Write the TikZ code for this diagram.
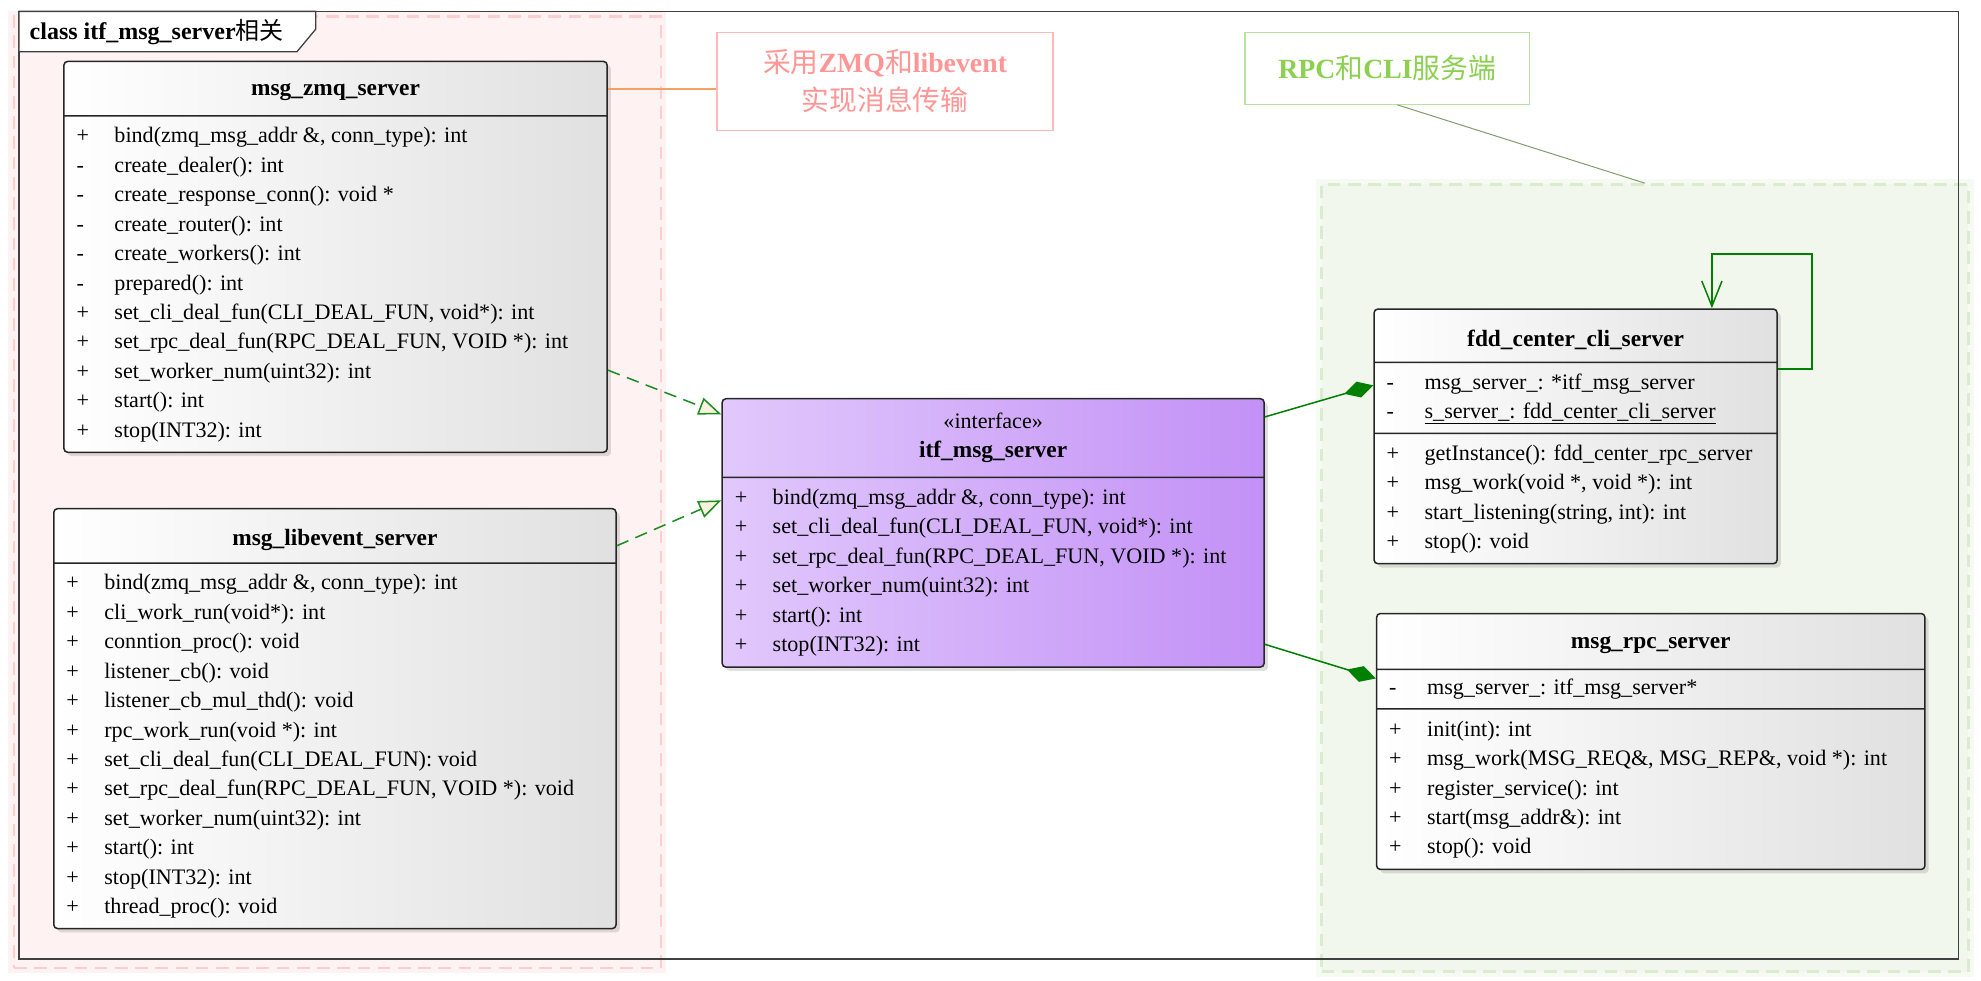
\documentclass[tikz,border=0pt]{standalone}
\usepackage{fontspec}
\setmainfont{Liberation Serif}
\newfontfamily\cjk{Noto Sans CJK SC}
\usepackage{xcolor}
\usepackage{tikz}
\usetikzlibrary{arrows.meta, positioning, calc, shapes.multipart, shadows}
\definecolor{zonepink}{RGB}{255,242,242}
\definecolor{zonepinkline}{RGB}{255,205,205}
\definecolor{zonegreen}{RGB}{242,247,238}
\definecolor{zonegreenline}{RGB}{218,236,208}
\definecolor{notepinktext}{RGB}{255,150,150}
\definecolor{notepinkline}{RGB}{255,185,185}
\definecolor{notegreentext}{RGB}{140,208,80}
\definecolor{notegreenline}{RGB}{185,225,160}
\definecolor{linkorange}{RGB}{245,160,100}
\definecolor{linkgreen}{RGB}{0,128,0}
\definecolor{realgreen}{RGB}{30,140,30}
\definecolor{tipcream}{RGB}{250,242,225}
\definecolor{ifleft}{RGB}{225,200,252}
\definecolor{ifright}{RGB}{195,145,246}

\newcommand{\ctitle}[3]{\parbox[c][#2][c]{#1}{\centering\fontsize{18.5}{23.3}\selectfont\bfseries\raisebox{-3pt}[\height][\depth]{#3}}}
\newcommand{\crows}[3]{\parbox[c][#2][c]{#1}{\raggedright\leftskip=10pt #3}}
\newcommand{\vis}[2]{\strut\makebox[30pt][l]{#1}\mbox{#2}}

\begin{document}
\begin{tikzpicture}[
    x=1pt, y=-1pt,
    font=\fontsize{17.5}{23.3}\selectfont,
    classbox/.style={rectangle split, rectangle split parts=#1, draw=black!85, line width=1.2pt, rounded corners=3pt, inner sep=0pt, left color=white, right color=black!12, drop shadow={shadow xshift=3pt, shadow yshift=-3pt, opacity=0.25}, anchor=north west},
    pinkzone/.style={draw=zonepinkline, fill=zonepink, line width=2pt, dash pattern=on 10pt off 6pt, inner sep=0pt, anchor=north west, preaction={draw=zonepinkline, line width=9pt, opacity=0.25, solid}},
    greenzone/.style={draw=zonegreenline, fill=zonegreen, line width=2pt, dash pattern=on 10pt off 6pt, inner sep=0pt, anchor=north west, preaction={draw=zonegreenline, line width=9pt, opacity=0.25, solid}},
    frameline/.style={draw=black!75, line width=1pt},
    notebox/.style={draw, fill=white, line width=1pt, align=center, inner sep=0pt, anchor=north west, font=\fontsize{22}{30}\selectfont},
    realize/.style={draw=realgreen, line width=1.2pt, dash pattern=on 10pt off 6pt, -{Triangle[length=18pt, width=14pt, fill=tipcream]}},
    compose/.style={draw=linkgreen, line width=1.2pt, -{Diamond[length=24pt, width=13pt, fill=linkgreen]}},
    selfref/.style={draw=linkgreen, line width=1.2pt, -{Straight Barb[length=20pt, width=16pt]}}
]
\useasboundingbox (0,0) rectangle (1568,776);

% zones
\node[pinkzone, minimum width=512pt, minimum height=753pt] (zonea) at (10,12) {};
\node[greenzone, minimum width=512pt, minimum height=623pt] (zoneb) at (1045,145) {};

% frame and its tab
\draw[frameline] (15,9) rectangle (1550,759);
\draw[frameline, fill=white] (15,9) -- (250,9) -- (250,23) -- (235,41) -- (15,41) -- cycle;
\node[anchor=west, font=\fontsize{19}{23}\selectfont] (framename) at (20,25) {\textbf{class itf\_msg\_server}{\cjk 相关}};

% notes
\node[notebox, draw=notepinkline, text=notepinktext, minimum width=266pt, minimum height=78pt] (notea) at (567,25) {{\cjk 采用}\textbf{ZMQ}{\cjk 和}\textbf{libevent}\\{\cjk 实现消息传输}};
\node[notebox, draw=notegreenline, text=notegreentext, minimum width=225pt, minimum height=57pt] (noteb) at (985,25) {\textbf{RPC}{\cjk 和}\textbf{CLI}{\cjk 服务端}};

% transport classes
\node[classbox=2] (zmq) at (50,48) {\ctitle{430pt}{42pt}{msg\_zmq\_server}
  \nodepart{two}\crows{430pt}{265pt}{%
    \vis{+}{bind(zmq\_msg\_addr \&, conn\_type): int}\\
    \vis{-}{create\_dealer(): int}\\
    \vis{-}{create\_response\_conn(): void *}\\
    \vis{-}{create\_router(): int}\\
    \vis{-}{create\_workers(): int}\\
    \vis{-}{prepared(): int}\\
    \vis{+}{set\_cli\_deal\_fun(CLI\_DEAL\_FUN, void*): int}\\
    \vis{+}{set\_rpc\_deal\_fun(RPC\_DEAL\_FUN, VOID *): int}\\
    \vis{+}{set\_worker\_num(uint32): int}\\
    \vis{+}{start(): int}\\
    \vis{+}{stop(INT32): int}}};

\node[classbox=2] (libev) at (42,402) {\ctitle{445pt}{42pt}{msg\_libevent\_server}
  \nodepart{two}\crows{445pt}{288pt}{%
    \vis{+}{bind(zmq\_msg\_addr \&, conn\_type): int}\\
    \vis{+}{cli\_work\_run(void*): int}\\
    \vis{+}{conntion\_proc(): void}\\
    \vis{+}{listener\_cb(): void}\\
    \vis{+}{listener\_cb\_mul\_thd(): void}\\
    \vis{+}{rpc\_work\_run(void *): int}\\
    \vis{+}{set\_cli\_deal\_fun(CLI\_DEAL\_FUN): void}\\
    \vis{+}{set\_rpc\_deal\_fun(RPC\_DEAL\_FUN, VOID *): void}\\
    \vis{+}{set\_worker\_num(uint32): int}\\
    \vis{+}{start(): int}\\
    \vis{+}{stop(INT32): int}\\
    \vis{+}{thread\_proc(): void}}};

% interface
\node[classbox=2, left color=ifleft, right color=ifright] (itf) at (571,315) {\parbox[c][61pt][c]{429pt}{\centering «interface»\\ \fontsize{18.5}{23.3}\selectfont\bfseries itf\_msg\_server}
  \nodepart{two}\crows{429pt}{149pt}{%
    \vis{+}{bind(zmq\_msg\_addr \&, conn\_type): int}\\
    \vis{+}{set\_cli\_deal\_fun(CLI\_DEAL\_FUN, void*): int}\\
    \vis{+}{set\_rpc\_deal\_fun(RPC\_DEAL\_FUN, VOID *): int}\\
    \vis{+}{set\_worker\_num(uint32): int}\\
    \vis{+}{start(): int}\\
    \vis{+}{stop(INT32): int}}};

% servers
\node[classbox=3] (cli) at (1087,244) {\ctitle{319pt}{41pt}{fdd\_center\_cli\_server}
  \nodepart{two}\crows{319pt}{55pt}{%
    \vis{-}{msg\_server\_: *itf\_msg\_server}\\
    \vis{-}{\underline{s\_server\_: fdd\_center\_cli\_server}}}
  \nodepart{three}\crows{319pt}{102pt}{%
    \vis{+}{getInstance(): fdd\_center\_rpc\_server}\\
    \vis{+}{msg\_work(void *, void *): int}\\
    \vis{+}{start\_listening(string, int): int}\\
    \vis{+}{stop(): void}}};

\node[classbox=3] (rpc) at (1089,485) {\ctitle{434pt}{43pt}{msg\_rpc\_server}
  \nodepart{two}\crows{434pt}{30pt}{%
    \vis{-}{msg\_server\_: itf\_msg\_server*}}
  \nodepart{three}\crows{434pt}{126pt}{%
    \vis{+}{init(int): int}\\
    \vis{+}{msg\_work(MSG\_REQ\&, MSG\_REP\&, void *): int}\\
    \vis{+}{register\_service(): int}\\
    \vis{+}{start(msg\_addr\&): int}\\
    \vis{+}{stop(): void}}};

% note links
\coordinate (notefoot) at ([yshift=-6pt]notea.west);
\draw[linkorange, line width=1pt] (notefoot -| zmq.east) -- (notefoot);
\draw[draw=black!30!notegreenline, line width=0.8pt] ([xshift=8pt]noteb.south) -- (zoneb.north);

% relations
\draw[realize] ($(zmq.north east)+(0,245)$) -- ($(itf.north west)+(0,13)$);
\draw[realize] ($(libev.north east)+(0,30)$) -- ($(itf.north west)+(0,81)$);
\draw[compose] ($(itf.north east)+(0,15)$) -- ($(cli.north west)+(0,61)$);
\draw[compose] ($(itf.north east)+(0,195)$) -- ($(rpc.north west)+(0,52)$);
\draw[selfref] ($(cli.north east)+(0,48)$) -- ++(27,0) |- ($(cli.north west)+(268,-43)$) -- ($(cli.north west)+(268,0)$);

\end{tikzpicture}
\end{document}
